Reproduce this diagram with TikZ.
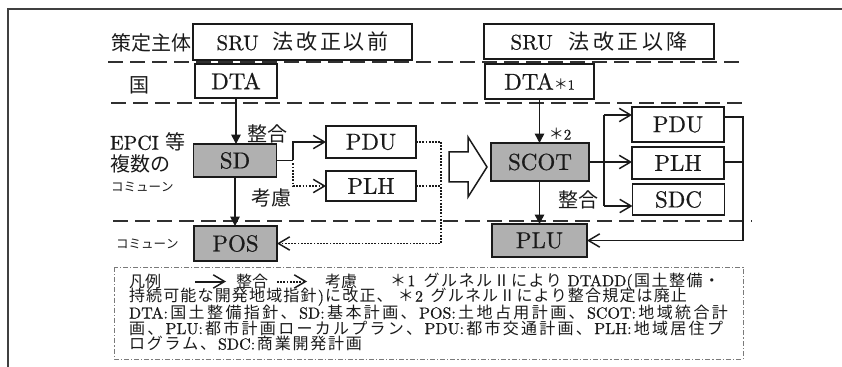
\documentclass[tikz,border=0pt]{standalone}
\usepackage{fontspec}
\usetikzlibrary{arrows.meta}
\setmainfont{lmroman10-regular.otf}[BoldFont=lmroman10-bold.otf, ItalicFont=lmroman10-italic.otf, FakeBold=0.7]
\newfontfamily\jpfont{Noto Sans CJK JP}

% one drawing unit
\newdimen\px \px=0.75pt
\newcommand\fs[1]{\fontsize{\the\dimexpr#1\px\relax}{\the\dimexpr#1\px*6/5\relax}\selectfont}

% automatic switch between Latin Modern and the CJK face
\XeTeXinterchartokenstate=1
\newXeTeXintercharclass\jpcls
\newcount\jpcnt
\newcommand\jprange[2]{\jpcnt=#1\relax
  \loop\XeTeXcharclass\jpcnt=\jpcls
  \ifnum\jpcnt<#2\relax\advance\jpcnt by 1\repeat}
\jprange{"2160}{"217F}
\jprange{"3000}{"30FF}
\jprange{"4E00}{"9FFF}
\jprange{"FF00}{"FFEF}
\newcommand\jpglue{\hskip0pt plus 1pt\relax}
\XeTeXinterchartoks 0 \jpcls = {\jpglue\jpfont}
\XeTeXinterchartoks 4095 \jpcls = {\jpfont}
\XeTeXinterchartoks \jpcls 0 = {\jpglue\rmfamily}
\XeTeXinterchartoks 4095 0 = {\rmfamily}
\XeTeXinterchartoks \jpcls \jpcls = {\jpglue}

\definecolor{ink}{HTML}{1A1A1A}
\definecolor{boxgray}{HTML}{B0B0B0}
\definecolor{rulegray}{HTML}{303030}
\definecolor{leggray}{HTML}{7A7A7A}
\definecolor{framegray}{HTML}{404040}

\tikzset{
  every node/.style={inner sep=0pt, outer sep=0pt, text=ink},
  box/.style 2 args={draw=ink, line width=1.8\px, fill=white,
    minimum width=#1\px, minimum height=#2\px, font=\fs{23}},
  graybox/.style 2 args={box={#1}{#2}, fill=boxgray},
  lbl/.style={font=\fs{20}},
  small/.style={font=\fs{12.5}},
  legtext/.style={font=\fs{16}, anchor=west},
  conn/.style={draw=ink, line width=1.5\px},
  arr/.style={conn, -{Triangle[length=7pt,width=7pt]}},
  oarr/.style={conn, -{Straight Barb[length=8.5pt,width=10pt,line width=1.1pt]}},
  dotline/.style={conn, line width=1.6\px, dash pattern=on 1.3pt off 1.1pt},
  dotarr/.style={dotline, -{Straight Barb[length=8.5pt,width=10pt,line width=1.1pt]}},
  sepline/.style={draw=rulegray, line width=2\px, dash pattern=on 15\px off 7\px},
  legframe/.style={draw=leggray, line width=1\px, dash pattern=on 5\px off 2\px on 1.2\px off 2\px},
}

\begin{document}
\begin{tikzpicture}[x=0.75pt, y=-0.75pt]
\useasboundingbox (0,0) rectangle (842,367);

% page frame
\draw[framegray, line width=1.3\px] (8,367) -- (8,9) -- (842,9);

% tier separators
\draw[sepline] (108,62) -- (740,62);
\draw[sepline] (111,103) -- (743,103);
\draw[sepline] (113,221) -- (752,221);

% row labels
\node[lbl] (actor) at (151,43) {策定主体};
\node[lbl] (state) at (139,85) {国};
\node[lbl, anchor=west] (epci1) at (110,142) {EPCI 等};
\node[lbl, anchor=west] (epci2) at (110,164) {複数の};
\node[small, anchor=west] (epci3) at (111,187) {コミューン};
\node[small, anchor=west] (commune) at (116,244) {コミューン};

% before the SRU law
\node[box={219}{36}, font=\fs{21}] (pre) at (302.5,42) {\hbox to 172\px{SRU 法改正以前}\hspace{11\px}};
\node[box={82}{34}] (dta) at (236,81) {DTA};
\node[graybox={83}{33}] (sd) at (235,160.5) {SD};
\node[box={90}{32}] (pdu) at (371,142) {PDU};
\node[box={90}{30}] (plh) at (371,186) {PLH};
\node[graybox={83}{35}] (pos) at (235.5,243.5) {POS};

% after the SRU law
\node[box={230}{35}, font=\fs{21}] (post) at (599,41.5) {\hbox to 177\px{SRU 法改正以降}\hspace{21\px}};
\node[box={109}{35}] (dta1) at (539.5,81.5) {DTA{\fs{14}＊1}};
\node[graybox={98}{38}] (scot) at (540,162) {SCOT};
\node[box={92}{35}] (pdu2) at (678,124.5) {PDU};
\node[box={92}{32}] (plh2) at (678,163) {PLH};
\node[box={92}{31}] (sdc) at (678.5,199.5) {SDC};
\node[graybox={95}{33}] (plu) at (539.5,240.5) {PLU};

% connectors, before
\coordinate (sdj) at (293,160.5);
\coordinate (dj) at (441,142);
\draw[arr] (dta.south) -- (dta.south |- sd.north);
\draw[conn] (sd.east) -- (sdj);
\draw[oarr] (sdj) |- (pdu.west);
\draw[dotarr] (sdj) ++(0,3) |- (plh.west);
\draw[arr] (sd.south) -- (sd.south |- pos.north);
\draw[dotline] (pdu.east) -- (dj);
\draw[dotline] (plh.east) -- (plh.east -| dj);
\draw[dotarr] (dj) |- (pos.east);
\node[lbl] (adj1) at (267,134) {整合};
\node[lbl] (cons1) at (271,198) {考慮};

% transition arrow
\draw[draw=ink, line width=1.5\px, fill=white]
  (449,152) -- (468,152) -- (468,137) -- (487,167) -- (468,197) -- (468,182) -- (449,182) -- cycle;

% connectors, after
\coordinate (bt) at (604,115);
\coordinate (bb) at (604,206);
\coordinate (rt) at (743,117);
\coordinate (rm) at (743,162);
\draw[arr] (dta1.south) -- (dta1.south |- scot.north);
\draw[oarr] (scot.east) -- (scot.east -| plh2.west);
\draw[conn] (bt) -- (bb);
\draw[oarr] (bt) -- (bt -| pdu2.west);
\draw[oarr] (bb) -- (bb -| sdc.west);
\draw[arr] (dta1.south |- scot.south) -- (dta1.south |- plu.north);
\draw[oarr] (rt -| pdu2.east) -- (rt) |- (plu.east);
\draw[conn] (rm -| plh2.east) -- (rm);
\node[font=\fs{15}] (note2) at (560,134) {＊2};
\node[lbl] (adj2) at (578,200) {整合};

% legend
\draw[legframe] (114,267) rectangle (743,359);
\coordinate (la1) at (195,281.5);
\coordinate (la2) at (226,281.5);
\coordinate (lb1) at (277,281.5);
\coordinate (lb2) at (307,281.5);
\node[legtext] (lg0) at (129,281.5) {凡例};
\draw[oarr, line width=2\px] (la1) -- (la2);
\node[legtext] (lgadj) at (236,281.5) {整合};
\draw[dotarr, line width=2\px] (lb1) -- (lb2);
\node[legtext] (lgcons) at (325,281.5) {考慮};
\node[legtext] (lg1) at (390,281.5) {\hbox to 330\px{＊1 グルネルⅡにより DTADD(国土整備・}};
\node[legtext] (lg2) at (129,297) {\hbox to 558\px{持続可能な開発地域指針)に改正、 ＊2 グルネルⅡにより整合規定は廃止}};
\node[legtext] (lg3) at (129,312.5) {\hbox to 599\px{DTA:国土整備指針、SD:基本計画、POS:土地占用計画、SCOT:地域統合計}};
\node[legtext] (lg4) at (129,328) {\hbox to 594\px{画、PLU:都市計画ローカルプラン、PDU:都市交通計画、PLH:地域居住プ}};
\node[legtext] (lg5) at (129,343.5) {\hbox to 233\px{ロ\jpglue グ\jpglue ラ\jpglue ム\jpglue 、SDC:商業開発計画}};
\end{tikzpicture}
\end{document}
